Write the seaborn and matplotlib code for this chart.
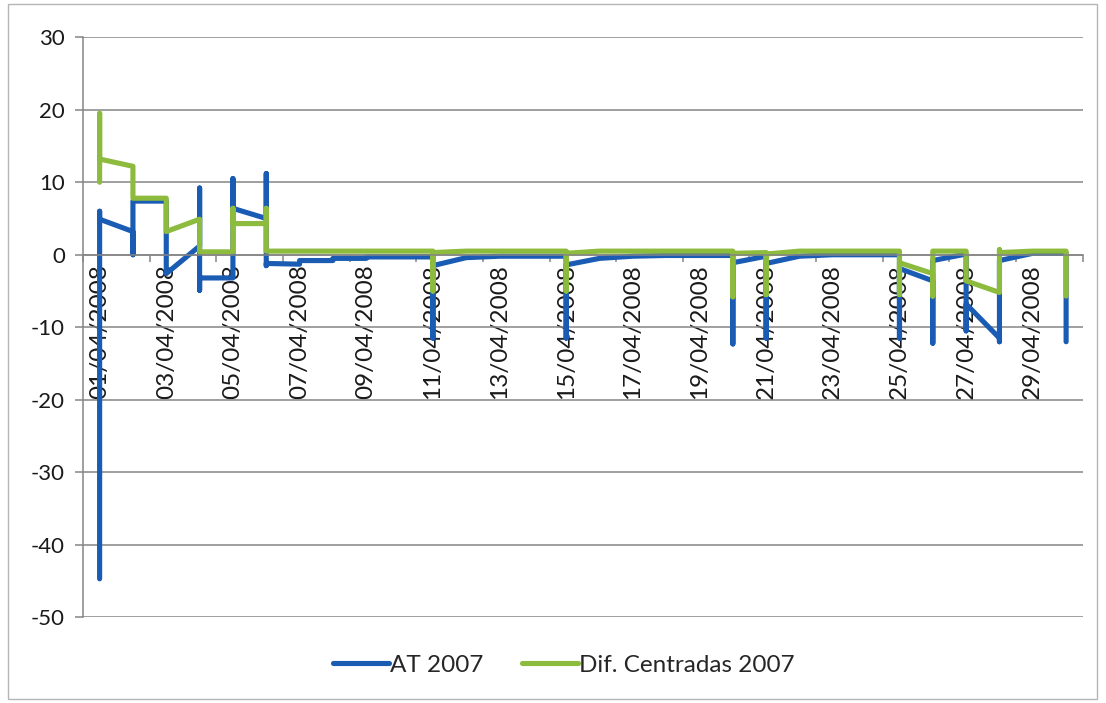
import pandas as pd
import matplotlib
matplotlib.use("Agg")
import matplotlib.pyplot as plt
import matplotlib.dates as mdates
from matplotlib.ticker import FixedLocator
from matplotlib.patches import Rectangle
import seaborn as sns

# Daily records for April 2008; several readings on the same day share one date
start = pd.Timestamp("2008-04-01")

at_days = [1, 1, 1, 2, 2, 2, 3, 3, 4, 4, 4, 4, 5, 5, 5, 6, 6, 6, 6,
           7, 7, 8, 8, 9, 9, 10, 11, 11, 11, 12, 13, 14, 15, 15, 15,
           16, 17, 18, 19, 20, 20, 20, 21, 21, 21, 22, 23, 24,
           25, 25, 25, 26, 26, 26, 27, 27, 27, 28, 28, 28, 29, 30, 30]
at_vals = [-44.7, 6.0, 4.9, 3.2, 0.0, 7.4, 7.4, -2.6, 1.2, 9.2, -4.9, -3.2,
           -3.2, 10.5, 6.4, 5.0, 11.2, -1.5, -1.2,
           -1.3, -0.8, -0.8, -0.5, -0.5, -0.3, -0.3, -0.3, -11.5, -1.5,
           -0.4, -0.2, -0.2, -0.2, -11.5, -1.4,
           -0.5, -0.2, -0.1, -0.1, -0.1, -12.3, -1.1, -0.2, -11.5, -1.2,
           -0.2, 0.0, 0.0,
           0.0, -11.5, -1.9, -3.6, -12.2, -0.8, 0.1, -10.5, -6.8,
           -11.5, -12.0, -0.8, 0.2, 0.2, -12.0]

dc_days = [1, 1, 1, 2, 2, 3, 3, 4, 4, 5, 5, 5, 6, 6, 6,
           7, 8, 9, 10, 11, 11, 11, 12, 13, 14, 15, 15, 15,
           16, 17, 18, 19, 20, 20, 20, 21, 21, 21, 22, 23, 24,
           25, 25, 25, 26, 26, 26, 27, 27, 28, 28, 28, 29, 30, 30]
dc_vals = [10.0, 19.5, 13.2, 12.2, 7.8, 7.8, 3.2, 4.9, 0.4, 0.4, 6.4, 4.3,
           4.3, 6.4, 0.5,
           0.5, 0.5, 0.5, 0.5, 0.5, -5.0, 0.3, 0.5, 0.5, 0.5, 0.5, -5.0, 0.2,
           0.5, 0.5, 0.5, 0.5, 0.5, -5.8, 0.2, 0.3, -5.5, 0.1, 0.5, 0.5, 0.5,
           0.5, -5.5, -1.1, -2.6, -5.7, 0.5, 0.5, -3.6, -5.2, 0.7, 0.3,
           0.5, 0.5, -5.7]

series_names = ["AT 2007", "Dif. Centradas 2007"]
series_colors = ["#1a5cb4", "#8dbb3e"]
y_ticks = [-50, -40, -30, -20, -10, 0, 10, 20, 30]


def to_dates(days):
    return [start + pd.Timedelta(days=d - 1) for d in days]


df = pd.concat([
    pd.DataFrame({"fecha": to_dates(at_days), "valor": at_vals,
                  "serie": series_names[0]}),
    pd.DataFrame({"fecha": to_dates(dc_days), "valor": dc_vals,
                  "serie": series_names[1]}),
], ignore_index=True)

sns.set_style("white")
plt.rcParams["font.family"] = ["Lato", "DejaVu Sans"]
plt.rcParams["axes.unicode_minus"] = False

fig = plt.figure(figsize=(11.06, 7.03), dpi=100)
ax = fig.add_axes([0.075, 0.122, 0.904, 0.825])

sns.lineplot(data=df, x="fecha", y="valor", hue="serie",
             palette=dict(zip(series_names, series_colors)),
             estimator=None, sort=False, lw=3.7, ax=ax,
             solid_capstyle="round", solid_joinstyle="round")

grid_c = "#858585"
ax.set_ylim(-50, 30)
ax.set_yticks(y_ticks)
ax.yaxis.grid(True, color=grid_c, lw=1.1)
ax.set_axisbelow(True)

x0 = mdates.date2num(start - pd.Timedelta(hours=12))
ax.set_xlim(x0, x0 + 30)

# Labels on every other day, tick marks on the day boundaries between them
ax.xaxis.set_major_locator(mdates.DayLocator(bymonthday=range(1, 31, 2)))
ax.xaxis.set_major_formatter(mdates.DateFormatter("%d/%m/%Y"))
ax.xaxis.set_minor_locator(FixedLocator([x0 + 2 * k for k in range(16)]))
ax.tick_params(axis="x", which="major", length=0, pad=7, labelsize=17.5,
               labelrotation=90, colors="#1a1a1a")
ax.tick_params(axis="x", which="minor", length=5, width=1.1, color=grid_c,
               direction="out", bottom=True)
for lab in ax.get_xticklabels():
    lab.set_va("top")
    lab.set_ha("center")

ax.tick_params(axis="y", length=6, width=1.1, color=grid_c, pad=7,
               labelsize=16, left=True, labelcolor="#1a1a1a")

for side in ("top", "right"):
    ax.spines[side].set_visible(False)
ax.spines["left"].set_color(grid_c)
ax.spines["left"].set_linewidth(1.1)
ax.spines["bottom"].set_position(("data", 0))
ax.spines["bottom"].set_color(grid_c)
ax.spines["bottom"].set_linewidth(1.1)
ax.set_xlabel("")
ax.set_ylabel("")

handles, labels = ax.get_legend_handles_labels()
ax.get_legend().remove()
fig.legend(handles, labels, loc="center", bbox_to_anchor=(0.51, 0.054),
           ncol=2, frameon=False, fontsize=17.5, handlelength=2.3,
           handletextpad=0.05, columnspacing=1.6)

fig.patches.append(Rectangle((0.007, 0.006), 0.985, 0.988,
                             transform=fig.transFigure, fill=False,
                             edgecolor="#b5b5b5", lw=1.0))

fig.savefig("out.png", dpi=100)
